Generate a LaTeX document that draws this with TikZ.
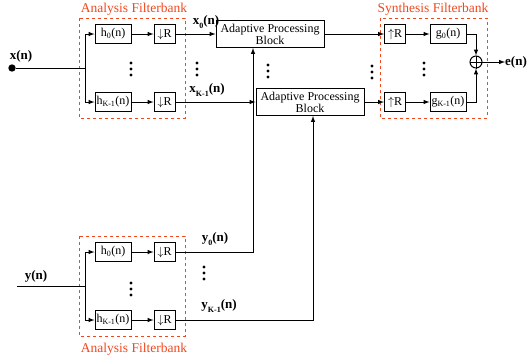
\documentclass[tikz,border=0pt]{standalone}
\usepackage{fontspec}
\setmainfont{Liberation Serif}
\usetikzlibrary{arrows, positioning, calc}
\definecolor{bankred}{RGB}{240,72,30}

% three stacked dots at a named coordinate
\newcommand{\stackdots}[1]{\foreach \dy in {-6,0,6} \fill ([yshift=\dy pt]#1) circle (1.6pt);}

\begin{document}
\begin{tikzpicture}[
                x=1pt, y=-1pt,
                node distance=22pt,
                filt/.style={rectangle, draw=black, line width=1pt, minimum width=36pt, minimum height=19pt, inner sep=1pt, font=\fontsize{12}{13}\selectfont},
                rate/.style={rectangle, draw=black, line width=1pt, minimum width=21pt, minimum height=19pt, inner sep=1pt, font=\fontsize{12}{13}\selectfont},
                apb/.style={rectangle, draw=black, line width=1pt, minimum width=108pt, minimum height=27pt, inner sep=1pt, align=center, font=\fontsize{12}{12}\selectfont},
                sum/.style={circle, draw=black, line width=1pt, minimum size=12pt, inner sep=0pt},
                bank/.style={draw=bankred, dashed, line width=0.9pt},
                banklabel/.style={text=bankred, font=\fontsize{13.5}{14}\selectfont},
                sig/.style={font=\bfseries\fontsize{13}{14}\selectfont, inner sep=0pt},
                wire/.style={line width=1pt},
                arrow/.style={line width=1pt, ->, >=latex}
            ]%
            \useasboundingbox (0,0) rectangle (532,360);
            %
            % Analysis filterbank (x)
            \node[filt] (h0x) at (113,34) {h\textsubscript{0}(n)};
            \node[rate, right=of h0x] (dnx0) {$\downarrow$R};
            \node[filt] (hKx) at (113,102) {h\textsubscript{K-1}(n)};
            \node[rate, right=of hKx] (dnxK) {$\downarrow$R};
            \coordinate (dotsx) at (131,69);
            \stackdots{dotsx}
            \draw[bank] (79,18) rectangle (185,118);
            \node[banklabel] (bankx) at (134,9) {Analysis Filterbank};
            %
            % Input x(n)
            \node[circle, fill=black, inner sep=2.6pt] (xin) at (12,68) {};
            \node[sig] (xlab) at (21,56) {x(n)};
            \coordinate (xbr) at (85,68);
            \draw[wire] (xin) -- (xbr);
            \draw[arrow] (xbr) |- (h0x);
            \draw[arrow] (xbr) |- (hKx);
            \draw[arrow] (h0x) -- (dnx0);
            \draw[arrow] (hKx) -- (dnxK);
            %
            % Adaptive processing blocks
            \node[apb] (apb0) at (270,34) {Adaptive Processing\\Block};
            \node[apb] (apbK) at (310,102) {Adaptive Processing\\Block};
            \draw[arrow] (dnx0) -- (apb0);
            \draw[arrow] (dnxK) -- (apbK);
            \node[sig] (x0lab) at (206,22) {x\raisebox{-0.7ex}{\fontsize{8}{9}\selectfont 0}(n)};
            \node[sig] (xKlab) at (207,90) {x\raisebox{-0.7ex}{\fontsize{8}{9}\selectfont K-1}(n)};
            \coordinate (dotsm1) at (197,69);
            \coordinate (dotsm2) at (268,71);
            \coordinate (dotsm3) at (372,72);
            \stackdots{dotsm1}
            \stackdots{dotsm2}
            \stackdots{dotsm3}
            %
            % Synthesis filterbank
            \node[rate] (up0) at (395,34) {$\uparrow$R};
            \node[filt] (g0) at (448,34) {g\textsubscript{0}(n)};
            \node[rate] (upK) at (395,102) {$\uparrow$R};
            \node[filt] (gK) at (448,102) {g\textsubscript{K-1}(n)};
            \coordinate (dotss) at (424,69);
            \stackdots{dotss}
            \node[sum] (add) at (476,62) {};
            \draw[wire] (add.north) -- (add.south);
            \draw[wire] (add.west) -- (add.east);
            \draw[bank] (380,18) rectangle (487,118);
            \node[banklabel] (banks) at (433,9) {Synthesis Filterbank};
            \draw[arrow] (apb0) -- (up0);
            \draw[arrow] (apbK) -- (upK);
            \draw[arrow] (up0) -- (g0);
            \draw[arrow] (upK) -- (gK);
            \draw[arrow] (g0) -| (add);
            \draw[arrow] (gK) -| (add);
            \node[sig, anchor=west] (eout) at (505,62) {e(n)};
            \draw[arrow] (add) -- (eout);
            %
            % Analysis filterbank (y)
            \node[filt] (h0y) at (113,252) {h\textsubscript{0}(n)};
            \node[rate, right=of h0y] (dny0) {$\downarrow$R};
            \node[filt] (hKy) at (113,320) {h\textsubscript{K-1}(n)};
            \node[rate, right=of hKy] (dnyK) {$\downarrow$R};
            \coordinate (dotsy) at (131,289);
            \stackdots{dotsy}
            \draw[bank] (79,236) rectangle (185,336);
            \node[banklabel] (banky) at (134,349) {Analysis Filterbank};
            %
            % Input y(n)
            \coordinate (yin) at (17,286);
            \coordinate (ybr) at (85,286);
            \node[sig] (ylab) at (36,276) {y(n)};
            \draw[wire] (yin) -- (ybr);
            \draw[arrow] (ybr) |- (h0y);
            \draw[arrow] (ybr) |- (hKy);
            \draw[arrow] (h0y) -- (dny0);
            \draw[arrow] (hKy) -- (dnyK);
            %
            % Reference signals to the adaptive blocks
            \draw[arrow] (dny0) -| ([xshift=-17pt]apb0.south);
            \draw[arrow] (dnyK) -| ([xshift=3pt]apbK.south);
            \node[sig] (y0lab) at (215,239) {y\raisebox{-0.7ex}{\fontsize{8}{9}\selectfont 0}(n)};
            \node[sig] (yKlab) at (219,306) {y\raisebox{-0.7ex}{\fontsize{8}{9}\selectfont K-1}(n)};
            \coordinate (dotsyo) at (204,273);
            \stackdots{dotsyo}
        \end{tikzpicture}
\end{document}
